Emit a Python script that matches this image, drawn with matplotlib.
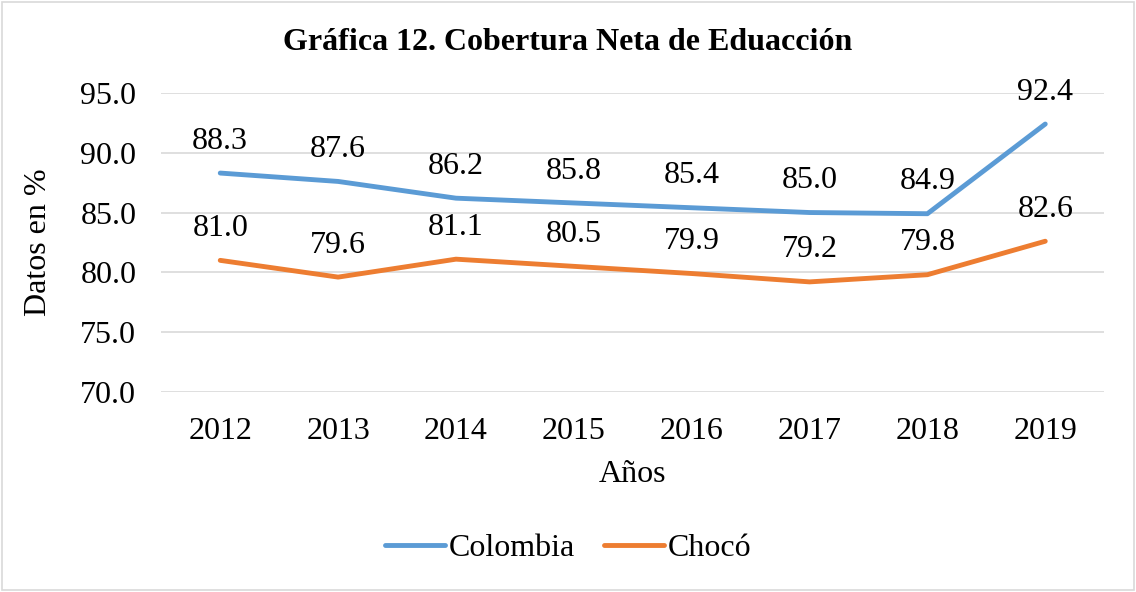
import matplotlib
matplotlib.use('Agg')
import matplotlib.pyplot as plt
from matplotlib.patches import Rectangle

plt.rcParams['font.family'] = ['Liberation Serif', 'DejaVu Serif']

years = ['2012', '2013', '2014', '2015', '2016', '2017', '2018', '2019']
colombia = [88.3, 87.6, 86.2, 85.8, 85.4, 85.0, 84.9, 92.4]
choco = [81.0, 79.6, 81.1, 80.5, 79.9, 79.2, 79.8, 82.6]
yticks = [70.0, 75.0, 80.0, 85.0, 90.0, 95.0]

blue = '#5B9BD5'
orange = '#ED7D31'
fs = 23

fig = plt.figure(figsize=(11.36, 5.92), dpi=100)
ax = fig.add_axes([0.142, 0.338, 0.830, 0.505])

x = range(len(years))
ax.plot(x, colombia, color=blue, lw=3.5, label='Colombia', solid_capstyle='round')
ax.plot(x, choco, color=orange, lw=3.5, label='Chocó', solid_capstyle='round')

for serie in (colombia, choco):
    for i, v in enumerate(serie):
        ax.annotate(f'{v:.1f}', (i, v), xytext=(0, 23), textcoords='offset points',
                    ha='center', va='center', fontsize=fs)

ax.set_xlim(-0.5, len(years) - 0.5)
ax.set_ylim(70, 95)
ax.set_yticks(yticks)
ax.set_yticklabels([f'{t:.1f}' for t in yticks], fontsize=fs)
ax.set_xticks(list(x))
ax.set_xticklabels(years, fontsize=fs)
ax.grid(axis='y', color='#d9d9d9', lw=1.2)
ax.set_axisbelow(True)
for s in ax.spines.values():
    s.set_visible(False)
ax.tick_params(axis='y', length=0, pad=18)
ax.tick_params(axis='x', length=0, pad=18)
ax.set_ylabel('Datos en %', fontsize=fs, labelpad=20)
ax.set_xlabel('Años', fontsize=fs, labelpad=10)

fig.text(0.5, 1 - 42 / 592, 'Gráfica 12. Cobertura Neta de Eduacción', ha='center', va='center',
         fontsize=fs, fontweight='bold')

fig.legend(loc='center', bbox_to_anchor=(0.5, 1 - 548 / 592), ncol=2, frameon=False,
           fontsize=fs, handlelength=1.9, columnspacing=0.9, handletextpad=0.1)

fig.patches.append(Rectangle((0.002, 0.003), 0.996, 0.994, transform=fig.transFigure,
                             fill=False, edgecolor='#d9d9d9', lw=1.2))

fig.savefig('out.png', dpi=100)
